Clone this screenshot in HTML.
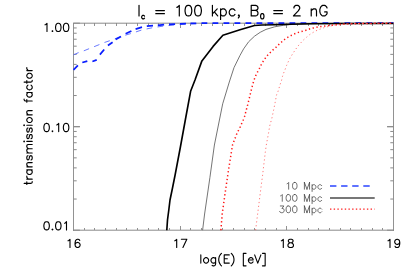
<!DOCTYPE html>
<html><head><meta charset="utf-8"><style>
html,body{margin:0;padding:0;background:#fff;}
body{width:415px;height:277px;overflow:hidden;}
svg{display:block;}
text{font-family:"Liberation Sans",sans-serif;fill:#111;}
</style></head><body>
<svg width="415" height="277" viewBox="0 0 415 277">
<rect width="415" height="277" fill="#fff"/>
<g stroke="#929292" stroke-width="1" fill="none" shape-rendering="crispEdges">
<path d="M73.5 22.7V230.7M393.5 22.7V230.7"/>
<path d="M73.5 230.2v-4.6M73.5 23.2v4.6"/>
<path d="M84.5 230.2v-2.4M84.5 23.2v2.4"/>
<path d="M94.5 230.2v-2.4M94.5 23.2v2.4"/>
<path d="M105.5 230.2v-2.4M105.5 23.2v2.4"/>
<path d="M116.5 230.2v-2.4M116.5 23.2v2.4"/>
<path d="M126.5 230.2v-2.4M126.5 23.2v2.4"/>
<path d="M137.5 230.2v-2.4M137.5 23.2v2.4"/>
<path d="M148.5 230.2v-2.4M148.5 23.2v2.4"/>
<path d="M158.5 230.2v-2.4M158.5 23.2v2.4"/>
<path d="M169.5 230.2v-2.4M169.5 23.2v2.4"/>
<path d="M180.5 230.2v-4.6M180.5 23.2v4.6"/>
<path d="M190.5 230.2v-2.4M190.5 23.2v2.4"/>
<path d="M201.5 230.2v-2.4M201.5 23.2v2.4"/>
<path d="M212.5 230.2v-2.4M212.5 23.2v2.4"/>
<path d="M222.5 230.2v-2.4M222.5 23.2v2.4"/>
<path d="M233.5 230.2v-2.4M233.5 23.2v2.4"/>
<path d="M244.5 230.2v-2.4M244.5 23.2v2.4"/>
<path d="M254.5 230.2v-2.4M254.5 23.2v2.4"/>
<path d="M265.5 230.2v-2.4M265.5 23.2v2.4"/>
<path d="M276.5 230.2v-2.4M276.5 23.2v2.4"/>
<path d="M286.5 230.2v-4.6M286.5 23.2v4.6"/>
<path d="M297.5 230.2v-2.4M297.5 23.2v2.4"/>
<path d="M308.5 230.2v-2.4M308.5 23.2v2.4"/>
<path d="M318.5 230.2v-2.4M318.5 23.2v2.4"/>
<path d="M329.5 230.2v-2.4M329.5 23.2v2.4"/>
<path d="M340.5 230.2v-2.4M340.5 23.2v2.4"/>
<path d="M350.5 230.2v-2.4M350.5 23.2v2.4"/>
<path d="M361.5 230.2v-2.4M361.5 23.2v2.4"/>
<path d="M372.5 230.2v-2.4M372.5 23.2v2.4"/>
<path d="M382.5 230.2v-2.4M382.5 23.2v2.4"/>
<path d="M393.5 230.2v-4.6M393.5 23.2v4.6"/>
</g>
<g stroke="#8a8a8a" stroke-width="1" fill="none">
<path d="M73.0 23.2H394.0M73.0 230.2H394.0"/>
<path d="M73.5 23.20h6.4M393.5 23.20h-6.4"/>
<path d="M73.5 27.94h3.2M393.5 27.94h-3.2"/>
<path d="M73.5 33.23h3.2M393.5 33.23h-3.2"/>
<path d="M73.5 39.23h3.2M393.5 39.23h-3.2"/>
<path d="M73.5 46.16h3.2M393.5 46.16h-3.2"/>
<path d="M73.5 54.36h3.2M393.5 54.36h-3.2"/>
<path d="M73.5 64.39h3.2M393.5 64.39h-3.2"/>
<path d="M73.5 77.32h3.2M393.5 77.32h-3.2"/>
<path d="M73.5 95.54h3.2M393.5 95.54h-3.2"/>
<path d="M73.5 126.70h6.4M393.5 126.70h-6.4"/>
<path d="M73.5 126.70h6.4M393.5 126.70h-6.4"/>
<path d="M73.5 131.44h3.2M393.5 131.44h-3.2"/>
<path d="M73.5 136.73h3.2M393.5 136.73h-3.2"/>
<path d="M73.5 142.73h3.2M393.5 142.73h-3.2"/>
<path d="M73.5 149.66h3.2M393.5 149.66h-3.2"/>
<path d="M73.5 157.86h3.2M393.5 157.86h-3.2"/>
<path d="M73.5 167.89h3.2M393.5 167.89h-3.2"/>
<path d="M73.5 180.82h3.2M393.5 180.82h-3.2"/>
<path d="M73.5 199.04h3.2M393.5 199.04h-3.2"/>
<path d="M73.5 230.20h6.4M393.5 230.20h-6.4"/>
</g>
<g fill="none" stroke-linejoin="round">
<path d="M73.5 54.9 L78.3 52.7 L83.9 50.8 L89.8 48.4 L93.8 46.8 L99.8 44.4 L104.7 42.4 L110.7 40.4 L120 36.8 L132.7 33 L142 29.9 L152.6 27.7 L164 26.0 L175 24.9 L186 24.1 L196 23.6" stroke="#5a6cff" stroke-width="0.9" stroke-dasharray="5.7 5.4"/>
<path d="M73.5 69.8L77.9 65.4M82.3 62.5L87.3 61.1M92.4 61.5L96.7 59.9M99.9 54.6L104.2 49.5M107.9 45.5L112.6 42.3M115.6 39.6L121.0 36.4M125.6 33.7L131.4 31M135.6 29.1L142 27.2M146.8 26.2L153 25.6M157.8 25.3L164.1 24.7M169 24.4L175.1 24.1M180 23.8L186 23.6M190.5 23.4L196.3 23.3" stroke="#0a1eff" stroke-width="1.75"/>
<path d="M201.5 23.1L290 23.1L310 23.2L393.5 23.2" stroke="#0a1eff" stroke-width="1.75" stroke-dasharray="5.8 5.2"/>
<path d="M202.6 230.2 L204.6 214 L208.1 190 L209.9 177.6 L214.4 145 L222.7 103.8 L229.3 82 L234 67.6 L240 55.4 L243.6 48.9 L248.7 41.7 L254.5 36.2 L260.2 32.3 L266 29.4 L274.7 26.8 L283.4 25.3 L290 24.6 L300 24.1 L317.7 23.7 L393.5 23.5" stroke="#5c5c5c" stroke-width="0.85"/>
<path d="M166.8 230.2 L167.5 220 L168.8 210 L170 200 L172.5 188 L175.1 175 L180.4 147 L185.5 119 L190.6 91.3 L195 80 L201.9 60.9 L213.1 46.4 L222.9 35.3 L240 29.8 L254.5 25.5 L262 25.0 L275 24.8 L290 24.3 L310 23.8 L340 23.5 L393.5 23.5" stroke="#000" stroke-width="1.65"/>
<path d="M255.6 230.2 L261 187.3 L262.5 175.9 L265.3 152.2 L266.3 145 L268.5 133.3 L269.7 126 L271.9 118.1 L273.6 110.2 L275.2 102.2 L276.6 94.7 L277.9 91.8 L279 88.2 L280.2 84.3 L281.5 80.6 L282.4 76.7 L283.5 73.4 L285.1 69.5 L286.6 65.4 L289.4 59.2 L292.5 54 L295.8 49.1 L297.9 46.2 L300.4 43.3 L303.3 40.1 L306.6 37.2 L309.5 34.7 L312.8 32.6 L316 30.8 L319.6 29.3 L324 27.7 L328.3 26.5 L331.9 25.7 L336.2 25.0 L342 24.3 L350 23.8 L360 23.5 L375 23.35 L393.5 23.3" stroke="#ff7878" stroke-width="1" stroke-dasharray="1.2 2.7"/>
<path d="M220.9 230.2 L222.2 214 L225.2 192.6 L228.6 169.5 L231.3 152.7 L232.6 144.7 L236.7 134 L240.1 127.1 L243.2 120 L244.6 116.4 L247.6 105.1 L249.5 97.5 L250.4 93.7 L251.3 90 L252.3 86.1 L253.3 82.5 L254.5 78.8 L255.9 75.2 L257.6 71.9 L259.5 68.3 L261.2 64.8 L263.1 61.5 L265.3 58.2 L267.6 55.2 L270.3 52.5 L273 49.9 L275.8 47.5 L278.7 44.6 L281.6 42 L284.5 39.5 L287.7 37.3 L291.3 35.4 L294.7 33.8 L298.4 32.4 L302.3 31.3 L305.9 30.2 L309.5 29 L313.1 28.1 L316.7 27.2 L320.6 26.6 L324.7 26.1 L328.3 25.6 L331.9 25.2 L336.2 24.8 L339.9 24.4 L344.2 24.1 L350 23.8 L360 23.5 L375 23.35 L393.5 23.3" stroke="#ff1414" stroke-width="1.5" stroke-dasharray="1.3 2.58"/>
</g>
<!-- legend -->
<g fill="none">
<path d="M330 186H370" stroke="#2a44ff" stroke-width="1.3" stroke-dasharray="6.4 4.7"/>
<path d="M330 198H374.7" stroke="#4a4a4a" stroke-width="1.4"/>
<path d="M330 209.2H374.7" stroke="#ff2020" stroke-width="1.2" stroke-dasharray="1.4 2.29"/>
</g>
<path transform="translate(232.8 15.95) translate(-95.7 0)" d="M1.92 -10.58L1.92 0M7.44 0.13L6.96 -0.38L6.48 -0.63L5.76 -0.63L5.28 -0.38L4.8 0.13L4.56 0.88L4.56 1.39L4.8 2.14L5.28 2.65L5.76 2.9L6.48 2.9L6.96 2.65L7.44 2.14M18.68 -5.35L27.32 -5.35M18.68 -2.32L27.32 -2.32M39.8 -8.57L40.76 -9.07L42.2 -10.58L42.2 0M50.84 -10.58L49.4 -10.08L48.44 -8.57L47.96 -6.05L47.96 -4.54L48.44 -2.02L49.4 -0.5L50.84 0L51.8 0L53.24 -0.5L54.2 -2.02L54.68 -4.54L54.68 -6.05L54.2 -8.57L53.24 -10.08L51.8 -10.58L50.84 -10.58M60.44 -10.58L59 -10.08L58.04 -8.57L57.56 -6.05L57.56 -4.54L58.04 -2.02L59 -0.5L60.44 0L61.4 0L62.84 -0.5L63.8 -2.02L64.28 -4.54L64.28 -6.05L63.8 -8.57L62.84 -10.08L61.4 -10.58L60.44 -10.58M75.32 -10.58L75.32 0M80.12 -7.06L75.32 -2.02M77.24 -4.03L80.6 0M83.48 -7.06L83.48 3.53M83.48 -5.54L84.44 -6.55L85.4 -7.06L86.84 -7.06L87.8 -6.55L88.76 -5.54L89.24 -4.03L89.24 -3.02L88.76 -1.51L87.8 -0.5L86.84 0L85.4 0L84.44 -0.5L83.48 -1.51M97.88 -5.54L96.92 -6.55L95.96 -7.06L94.52 -7.06L93.56 -6.55L92.6 -5.54L92.12 -4.03L92.12 -3.02L92.6 -1.51L93.56 -0.5L94.52 0L95.96 0L96.92 -0.5L97.88 -1.51M102.2 -0.5L101.72 0L101.24 -0.5L101.72 -1.01L102.2 -0.5L102.2 0.5L101.72 1.51L101.24 2.02M114.12 -10.58L114.12 0M114.12 -10.58L118.44 -10.58L119.88 -10.08L120.36 -9.58L120.84 -8.57L120.84 -7.56L120.36 -6.55L119.88 -6.05L118.44 -5.54M114.12 -5.54L118.44 -5.54L119.88 -5.04L120.36 -4.54L120.84 -3.53L120.84 -2.02L120.36 -1.01L119.88 -0.5L118.44 0L114.12 0M124.94 -2.39L124.22 -2.14L123.74 -1.38L123.5 -0.12L123.5 0.63L123.74 1.89L124.22 2.65L124.94 2.9L125.42 2.9L126.14 2.65L126.62 1.89L126.86 0.63L126.86 -0.12L126.62 -1.38L126.14 -2.14L125.42 -2.39L124.94 -2.39M136.68 -5.35L145.32 -5.35M136.68 -2.32L145.32 -2.32M156.84 -8.06L156.84 -8.57L157.32 -9.58L157.8 -10.08L158.76 -10.58L160.68 -10.58L161.64 -10.08L162.12 -9.58L162.6 -8.57L162.6 -7.56L162.12 -6.55L161.16 -5.04L156.36 0L163.08 0M174.12 -7.06L174.12 0M174.12 -5.04L175.56 -6.55L176.52 -7.06L177.96 -7.06L178.92 -6.55L179.4 -5.04L179.4 0M189.96 -8.06L189.48 -9.07L188.52 -10.08L187.56 -10.58L185.64 -10.58L184.68 -10.08L183.72 -9.07L183.24 -8.06L182.76 -6.55L182.76 -4.03L183.24 -2.52L183.72 -1.51L184.68 -0.5L185.64 0L187.56 0L188.52 -0.5L189.48 -1.51L189.96 -2.52L189.96 -4.03M187.56 -4.03L189.96 -4.03" fill="none" stroke="#000" stroke-width="1.2" stroke-linecap="round" stroke-linejoin="round" />
<path transform="translate(70 31.5) translate(-27.3 0)" d="M2.34 -6.63L3.12 -7.02L4.29 -8.19L4.29 0M9.75 -0.78L9.36 -0.39L9.75 0L10.14 -0.39L9.75 -0.78M15.21 -8.19L14.04 -7.8L13.26 -6.63L12.87 -4.68L12.87 -3.51L13.26 -1.56L14.04 -0.39L15.21 0L15.99 0L17.16 -0.39L17.94 -1.56L18.33 -3.51L18.33 -4.68L17.94 -6.63L17.16 -7.8L15.99 -8.19L15.21 -8.19M23.01 -8.19L21.84 -7.8L21.06 -6.63L20.67 -4.68L20.67 -3.51L21.06 -1.56L21.84 -0.39L23.01 0L23.79 0L24.96 -0.39L25.74 -1.56L26.13 -3.51L26.13 -4.68L25.74 -6.63L24.96 -7.8L23.79 -8.19L23.01 -8.19" fill="none" stroke="#000" stroke-width="1.12" stroke-linecap="round" stroke-linejoin="round" />
<path transform="translate(70 131.6) translate(-27.3 0)" d="M3.51 -8.19L2.34 -7.8L1.56 -6.63L1.17 -4.68L1.17 -3.51L1.56 -1.56L2.34 -0.39L3.51 0L4.29 0L5.46 -0.39L6.24 -1.56L6.63 -3.51L6.63 -4.68L6.24 -6.63L5.46 -7.8L4.29 -8.19L3.51 -8.19M9.75 -0.78L9.36 -0.39L9.75 0L10.14 -0.39L9.75 -0.78M14.04 -6.63L14.82 -7.02L15.99 -8.19L15.99 0M23.01 -8.19L21.84 -7.8L21.06 -6.63L20.67 -4.68L20.67 -3.51L21.06 -1.56L21.84 -0.39L23.01 0L23.79 0L24.96 -0.39L25.74 -1.56L26.13 -3.51L26.13 -4.68L25.74 -6.63L24.96 -7.8L23.79 -8.19L23.01 -8.19" fill="none" stroke="#000" stroke-width="1.12" stroke-linecap="round" stroke-linejoin="round" />
<path transform="translate(70 229.9) translate(-27.3 0)" d="M3.51 -8.19L2.34 -7.8L1.56 -6.63L1.17 -4.68L1.17 -3.51L1.56 -1.56L2.34 -0.39L3.51 0L4.29 0L5.46 -0.39L6.24 -1.56L6.63 -3.51L6.63 -4.68L6.24 -6.63L5.46 -7.8L4.29 -8.19L3.51 -8.19M9.75 -0.78L9.36 -0.39L9.75 0L10.14 -0.39L9.75 -0.78M15.21 -8.19L14.04 -7.8L13.26 -6.63L12.87 -4.68L12.87 -3.51L13.26 -1.56L14.04 -0.39L15.21 0L15.99 0L17.16 -0.39L17.94 -1.56L18.33 -3.51L18.33 -4.68L17.94 -6.63L17.16 -7.8L15.99 -8.19L15.21 -8.19M21.84 -6.63L22.62 -7.02L23.79 -8.19L23.79 0" fill="none" stroke="#000" stroke-width="1.12" stroke-linecap="round" stroke-linejoin="round" />
<path transform="translate(73.5 247.5) translate(-7.8 0)" d="M2.34 -6.63L3.12 -7.02L4.29 -8.19L4.29 0M14.04 -7.02L13.65 -7.8L12.48 -8.19L11.7 -8.19L10.53 -7.8L9.75 -6.63L9.36 -4.68L9.36 -2.73L9.75 -1.17L10.53 -0.39L11.7 0L12.09 0L13.26 -0.39L14.04 -1.17L14.43 -2.34L14.43 -2.73L14.04 -3.9L13.26 -4.68L12.09 -5.07L11.7 -5.07L10.53 -4.68L9.75 -3.9L9.36 -2.73" fill="none" stroke="#000" stroke-width="1.12" stroke-linecap="round" stroke-linejoin="round" />
<path transform="translate(180.2 247.5) translate(-7.8 0)" d="M2.34 -6.63L3.12 -7.02L4.29 -8.19L4.29 0M14.43 -8.19L10.53 0M8.97 -8.19L14.43 -8.19" fill="none" stroke="#000" stroke-width="1.12" stroke-linecap="round" stroke-linejoin="round" />
<path transform="translate(286.8 247.5) translate(-7.8 0)" d="M2.34 -6.63L3.12 -7.02L4.29 -8.19L4.29 0M10.92 -8.19L9.75 -7.8L9.36 -7.02L9.36 -6.24L9.75 -5.46L10.53 -5.07L12.09 -4.68L13.26 -4.29L14.04 -3.51L14.43 -2.73L14.43 -1.56L14.04 -0.78L13.65 -0.39L12.48 0L10.92 0L9.75 -0.39L9.36 -0.78L8.97 -1.56L8.97 -2.73L9.36 -3.51L10.14 -4.29L11.31 -4.68L12.87 -5.07L13.65 -5.46L14.04 -6.24L14.04 -7.02L13.65 -7.8L12.48 -8.19L10.92 -8.19" fill="none" stroke="#000" stroke-width="1.12" stroke-linecap="round" stroke-linejoin="round" />
<path transform="translate(393.5 247.5) translate(-7.8 0)" d="M2.34 -6.63L3.12 -7.02L4.29 -8.19L4.29 0M14.04 -5.46L13.65 -4.29L12.87 -3.51L11.7 -3.12L11.31 -3.12L10.14 -3.51L9.36 -4.29L8.97 -5.46L8.97 -5.85L9.36 -7.02L10.14 -7.8L11.31 -8.19L11.7 -8.19L12.87 -7.8L13.65 -7.02L14.04 -5.46L14.04 -3.51L13.65 -1.56L12.87 -0.39L11.7 0L10.92 0L9.75 -0.39L9.36 -1.17" fill="none" stroke="#000" stroke-width="1.12" stroke-linecap="round" stroke-linejoin="round" />
<path transform="translate(233 263.1) translate(-33.74 0)" d="M1.56 -8.19L1.56 0M6.24 -5.46L5.46 -5.07L4.68 -4.29L4.29 -3.12L4.29 -2.34L4.68 -1.17L5.46 -0.39L6.24 0L7.41 0L8.19 -0.39L8.97 -1.17L9.36 -2.34L9.36 -3.12L8.97 -4.29L8.19 -5.07L7.41 -5.46L6.24 -5.46M16.38 -5.46L16.38 0.78L15.99 1.95L15.6 2.34L14.82 2.73L13.65 2.73L12.87 2.34M16.38 -4.29L15.6 -5.07L14.82 -5.46L13.65 -5.46L12.87 -5.07L12.09 -4.29L11.7 -3.12L11.7 -2.34L12.09 -1.17L12.87 -0.39L13.65 0L14.82 0L15.6 -0.39L16.38 -1.17M22.23 -9.75L21.45 -8.97L20.67 -7.8L19.89 -6.24L19.5 -4.29L19.5 -2.73L19.89 -0.78L20.67 0.78L21.45 1.95L22.23 2.73M24.96 -8.19L24.96 0M24.96 -8.19L30.03 -8.19M24.96 -4.29L28.08 -4.29M24.96 0L30.03 0M31.98 -9.75L32.76 -8.97L33.54 -7.8L34.32 -6.24L34.71 -4.29L34.71 -2.73L34.32 -0.78L33.54 0.78L32.76 1.95L31.98 2.73M44.07 -9.75L44.07 2.73M44.07 -9.75L46.8 -9.75M44.07 2.73L46.8 2.73M49.14 -3.12L53.82 -3.12L53.82 -3.9L53.43 -4.68L53.04 -5.07L52.26 -5.46L51.09 -5.46L50.31 -5.07L49.53 -4.29L49.14 -3.12L49.14 -2.34L49.53 -1.17L50.31 -0.39L51.09 0L52.26 0L53.04 -0.39L53.82 -1.17M55.38 -8.19L58.5 0M61.62 -8.19L58.5 0M65.91 -9.75L65.91 2.73M63.18 -9.75L65.91 -9.75M63.18 2.73L65.91 2.73" fill="none" stroke="#000" stroke-width="1.12" stroke-linecap="round" stroke-linejoin="round" />
<path transform="translate(32.2 126.2) rotate(-90) translate(-59.1 0)" d="M1.93 -8.09L1.93 -1.54L2.31 -0.39L3.08 0L3.85 0M0.77 -5.39L3.46 -5.39M6.16 -5.39L6.16 0M6.16 -3.08L6.54 -4.24L7.32 -5L8.09 -5.39L9.24 -5.39M15.4 -5.39L15.4 0M15.4 -4.24L14.63 -5L13.86 -5.39L12.71 -5.39L11.94 -5L11.16 -4.24L10.78 -3.08L10.78 -2.31L11.16 -1.16L11.94 -0.39L12.71 0L13.86 0L14.63 -0.39L15.4 -1.16M18.48 -5.39L18.48 0M18.48 -3.85L19.64 -5L20.41 -5.39L21.56 -5.39L22.33 -5L22.72 -3.85L22.72 0M29.65 -4.24L29.26 -5L28.11 -5.39L26.95 -5.39L25.8 -5L25.41 -4.24L25.8 -3.46L26.57 -3.08L28.49 -2.7L29.26 -2.31L29.65 -1.54L29.65 -1.16L29.26 -0.39L28.11 0L26.95 0L25.8 -0.39L25.41 -1.16M32.34 -5.39L32.34 0M32.34 -3.85L33.5 -5L34.27 -5.39L35.42 -5.39L36.19 -5L36.58 -3.85L36.58 0M36.58 -3.85L37.73 -5L38.5 -5.39L39.66 -5.39L40.43 -5L40.81 -3.85L40.81 0M43.51 -8.09L43.89 -7.7L44.28 -8.09L43.89 -8.47L43.51 -8.09M43.89 -5.39L43.89 0M50.82 -4.24L50.44 -5L49.28 -5.39L48.13 -5.39L46.97 -5L46.59 -4.24L46.97 -3.46L47.74 -3.08L49.67 -2.7L50.44 -2.31L50.82 -1.54L50.82 -1.16L50.44 -0.39L49.28 0L48.13 0L46.97 -0.39L46.59 -1.16M57.37 -4.24L56.98 -5L55.83 -5.39L54.67 -5.39L53.52 -5L53.13 -4.24L53.52 -3.46L54.29 -3.08L56.21 -2.7L56.98 -2.31L57.37 -1.54L57.37 -1.16L56.98 -0.39L55.83 0L54.67 0L53.52 -0.39L53.13 -1.16M59.68 -8.09L60.06 -7.7L60.45 -8.09L60.06 -8.47L59.68 -8.09M60.06 -5.39L60.06 0M64.68 -5.39L63.91 -5L63.14 -4.24L62.76 -3.08L62.76 -2.31L63.14 -1.16L63.91 -0.39L64.68 0L65.84 0L66.61 -0.39L67.38 -1.16L67.76 -2.31L67.76 -3.08L67.38 -4.24L66.61 -5L65.84 -5.39L64.68 -5.39M70.46 -5.39L70.46 0M70.46 -3.85L71.61 -5L72.38 -5.39L73.54 -5.39L74.31 -5L74.69 -3.85L74.69 0M86.24 -8.09L85.47 -8.09L84.7 -7.7L84.31 -6.54L84.31 0M83.16 -5.39L85.86 -5.39M92.79 -5.39L92.79 0M92.79 -4.24L92.02 -5L91.25 -5.39L90.09 -5.39L89.32 -5L88.55 -4.24L88.17 -3.08L88.17 -2.31L88.55 -1.16L89.32 -0.39L90.09 0L91.25 0L92.02 -0.39L92.79 -1.16M100.1 -4.24L99.33 -5L98.56 -5.39L97.41 -5.39L96.64 -5L95.87 -4.24L95.48 -3.08L95.48 -2.31L95.87 -1.16L96.64 -0.39L97.41 0L98.56 0L99.33 -0.39L100.1 -1.16M103.18 -8.09L103.18 -1.54L103.56 -0.39L104.33 0L105.1 0M102.02 -5.39L104.72 -5.39M108.95 -5.39L108.19 -5L107.42 -4.24L107.03 -3.08L107.03 -2.31L107.42 -1.16L108.19 -0.39L108.95 0L110.11 0L110.88 -0.39L111.65 -1.16L112.03 -2.31L112.03 -3.08L111.65 -4.24L110.88 -5L110.11 -5.39L108.95 -5.39M114.73 -5.39L114.73 0M114.73 -3.08L115.11 -4.24L115.88 -5L116.66 -5.39L117.81 -5.39" fill="none" stroke="#000" stroke-width="1.12" stroke-linecap="round" stroke-linejoin="round" />
<path transform="translate(322.7 189.2) translate(-37.56 0)" d="M1.93 -5.46L2.57 -5.78L3.53 -6.74L3.53 0M9.31 -6.74L8.35 -6.42L7.7 -5.46L7.38 -3.85L7.38 -2.89L7.7 -1.28L8.35 -0.32L9.31 0L9.95 0L10.91 -0.32L11.56 -1.28L11.88 -2.89L11.88 -3.85L11.56 -5.46L10.91 -6.42L9.95 -6.74L9.31 -6.74M19.26 -6.74L19.26 0M19.26 -6.74L21.83 0M24.4 -6.74L21.83 0M24.4 -6.74L24.4 0M26.96 -4.49L26.96 2.25M26.96 -3.53L27.61 -4.17L28.25 -4.49L29.21 -4.49L29.85 -4.17L30.5 -3.53L30.82 -2.57L30.82 -1.93L30.5 -0.96L29.85 -0.32L29.21 0L28.25 0L27.61 -0.32L26.96 -0.96M36.59 -3.53L35.95 -4.17L35.31 -4.49L34.35 -4.49L33.7 -4.17L33.06 -3.53L32.74 -2.57L32.74 -1.93L33.06 -0.96L33.7 -0.32L34.35 0L35.31 0L35.95 -0.32L36.59 -0.96" fill="none" stroke="#3c3c3c" stroke-width="0.75" stroke-linecap="round" stroke-linejoin="round" />
<path transform="translate(322.7 201.3) translate(-43.98 0)" d="M1.93 -5.46L2.57 -5.78L3.53 -6.74L3.53 0M9.31 -6.74L8.35 -6.42L7.7 -5.46L7.38 -3.85L7.38 -2.89L7.7 -1.28L8.35 -0.32L9.31 0L9.95 0L10.91 -0.32L11.56 -1.28L11.88 -2.89L11.88 -3.85L11.56 -5.46L10.91 -6.42L9.95 -6.74L9.31 -6.74M15.73 -6.74L14.77 -6.42L14.12 -5.46L13.8 -3.85L13.8 -2.89L14.12 -1.28L14.77 -0.32L15.73 0L16.37 0L17.33 -0.32L17.98 -1.28L18.3 -2.89L18.3 -3.85L17.98 -5.46L17.33 -6.42L16.37 -6.74L15.73 -6.74M25.68 -6.74L25.68 0M25.68 -6.74L28.25 0M30.82 -6.74L28.25 0M30.82 -6.74L30.82 0M33.38 -4.49L33.38 2.25M33.38 -3.53L34.03 -4.17L34.67 -4.49L35.63 -4.49L36.27 -4.17L36.91 -3.53L37.24 -2.57L37.24 -1.93L36.91 -0.96L36.27 -0.32L35.63 0L34.67 0L34.03 -0.32L33.38 -0.96M43.01 -3.53L42.37 -4.17L41.73 -4.49L40.77 -4.49L40.12 -4.17L39.48 -3.53L39.16 -2.57L39.16 -1.93L39.48 -0.96L40.12 -0.32L40.77 0L41.73 0L42.37 -0.32L43.01 -0.96" fill="none" stroke="#3c3c3c" stroke-width="0.75" stroke-linecap="round" stroke-linejoin="round" />
<path transform="translate(322.7 212.7) translate(-43.98 0)" d="M1.6 -6.74L5.14 -6.74L3.21 -4.17L4.17 -4.17L4.82 -3.85L5.14 -3.53L5.46 -2.57L5.46 -1.93L5.14 -0.96L4.49 -0.32L3.53 0L2.57 0L1.6 -0.32L1.28 -0.64L0.96 -1.28M9.31 -6.74L8.35 -6.42L7.7 -5.46L7.38 -3.85L7.38 -2.89L7.7 -1.28L8.35 -0.32L9.31 0L9.95 0L10.91 -0.32L11.56 -1.28L11.88 -2.89L11.88 -3.85L11.56 -5.46L10.91 -6.42L9.95 -6.74L9.31 -6.74M15.73 -6.74L14.77 -6.42L14.12 -5.46L13.8 -3.85L13.8 -2.89L14.12 -1.28L14.77 -0.32L15.73 0L16.37 0L17.33 -0.32L17.98 -1.28L18.3 -2.89L18.3 -3.85L17.98 -5.46L17.33 -6.42L16.37 -6.74L15.73 -6.74M25.68 -6.74L25.68 0M25.68 -6.74L28.25 0M30.82 -6.74L28.25 0M30.82 -6.74L30.82 0M33.38 -4.49L33.38 2.25M33.38 -3.53L34.03 -4.17L34.67 -4.49L35.63 -4.49L36.27 -4.17L36.91 -3.53L37.24 -2.57L37.24 -1.93L36.91 -0.96L36.27 -0.32L35.63 0L34.67 0L34.03 -0.32L33.38 -0.96M43.01 -3.53L42.37 -4.17L41.73 -4.49L40.77 -4.49L40.12 -4.17L39.48 -3.53L39.16 -2.57L39.16 -1.93L39.48 -0.96L40.12 -0.32L40.77 0L41.73 0L42.37 -0.32L43.01 -0.96" fill="none" stroke="#3c3c3c" stroke-width="0.75" stroke-linecap="round" stroke-linejoin="round" />
</svg>
</body></html>
